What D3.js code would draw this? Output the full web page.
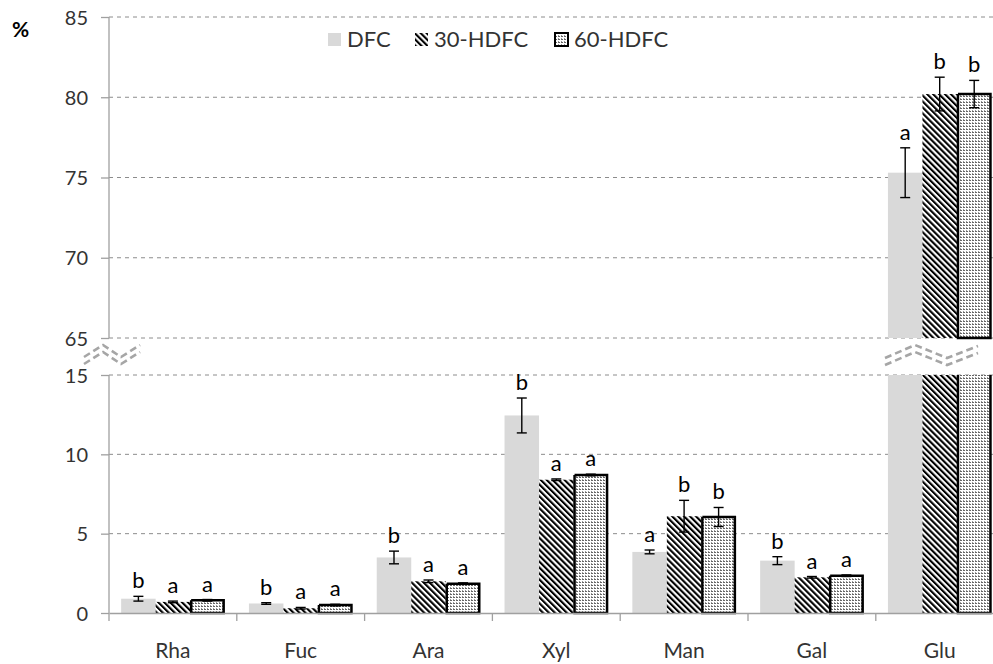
<!DOCTYPE html>
<html>
<head>
<meta charset="utf-8">
<script src="https://cdn.jsdelivr.net/npm/d3@7"></script>
<style>
  html, body { margin: 0; padding: 0; background: #fff; }
  svg { display: block; font-family: Lato, "Open Sans", sans-serif; }
</style>
</head>
<body>
<svg id="chart" width="993" height="664"></svg>
<script>
// Monosaccharide composition (%) of the three fibre samples
const categories = ["Rha", "Fuc", "Ara", "Xyl", "Man", "Gal", "Glu"];
const seriesNames = ["DFC", "30-HDFC", "60-HDFC"];
const dfc      = [0.9, 0.6, 3.5, 12.45, 3.85, 3.3, 75.3];
const hdfc30   = [0.7, 0.3, 2.0, 8.4, 6.1, 2.25, 80.2];
const hdfc60   = [0.8, 0.5, 1.85, 8.7, 6.05, 2.35, 80.2];
const errDfc   = [0.15, 0.05, 0.4, 1.1, 0.12, 0.25, 1.55];
const err30    = [0.05, 0.05, 0.08, 0.05, 1.0, 0.05, 1.05];
const err60    = [0.05, 0.05, 0.05, 0.05, 0.6, 0.05, 0.85];
const lettersDfc = ["b", "b", "b", "b", "a", "b", "a"];
const letters30  = ["a", "a", "a", "a", "b", "a", "b"];
const letters60  = ["a", "a", "a", "a", "b", "a", "b"];
const lowTicks  = [0, 5, 10, 15];
const highTicks = [65, 70, 75, 80, 85];

const values  = [dfc, hdfc30, hdfc60];
const errors  = [errDfc, err30, err60];
const letters = [lettersDfc, letters30, letters60];

const rows = [];
categories.forEach((c, i) => {
  seriesNames.forEach((s, j) => {
    rows.push({ cat: c, series: s, value: values[j][i], err: errors[j][i], letter: letters[j][i] });
  });
});

const svg = d3.select("#chart");
const axisColor = "#a0a0a0";
const textColor = "#333";

// Patterns for the two heat-treated samples
const defs = svg.append("defs");
const hatch = defs.append("pattern")
  .attr("id", "hatch").attr("patternUnits", "userSpaceOnUse")
  .attr("width", 4.2).attr("height", 4.2)
  .attr("patternTransform", "rotate(-45)");
hatch.append("rect").attr("width", 4.2).attr("height", 4.2).attr("fill", "#fff");
hatch.append("rect").attr("x", 0).attr("width", 2.1).attr("height", 4.2).attr("fill", "#000");

const dots = defs.append("pattern")
  .attr("id", "dots").attr("patternUnits", "userSpaceOnUse")
  .attr("width", 3).attr("height", 3);
dots.append("rect").attr("width", 3).attr("height", 3).attr("fill", "#fff");
dots.append("rect").attr("x", 0).attr("y", 0).attr("width", 2).attr("height", 1).attr("fill", "#666");
dots.append("rect").attr("x", 0).attr("y", 2).attr("width", 1).attr("height", 1).attr("fill", "#999");

const fills = { "DFC": "#d9d9d9", "30-HDFC": "url(#hatch)", "60-HDFC": "url(#dots)" };

// Scales: two vertical segments sharing one category axis
const left = 109;
const x = d3.scaleBand().domain(categories).range([left, left + 7 * 127.8]).padding(0);
const xs = d3.scaleBand().domain(seriesNames)
  .range([x.bandwidth() * 0.095, x.bandwidth() * 0.905]).padding(0);
const yLow  = d3.scaleLinear().domain([0, 15]).range([613, 375]);
const yHigh = d3.scaleLinear().domain([65, 85]).range([338, 17]);

// Dashed gridlines
const grid = svg.append("g");
grid.selectAll("line.gh").data(highTicks).join("line")
  .attr("x1", left).attr("x2", 993)
  .attr("y1", d => yHigh(d)).attr("y2", d => yHigh(d))
  .attr("stroke", "#8c8c8c").attr("stroke-width", 1).attr("stroke-dasharray", "4,4");
grid.selectAll("line.gl").data(lowTicks.filter(d => d > 0)).join("line")
  .attr("x1", left).attr("x2", 993)
  .attr("y1", d => yLow(d)).attr("y2", d => yLow(d))
  .attr("stroke", "#8c8c8c").attr("stroke-width", 1).attr("stroke-dasharray", "4,4");

// Bars (values above 15 are drawn in both segments)
const bars = svg.append("g");
rows.forEach(r => {
  const bx = x(r.cat) + xs(r.series);
  const bw = xs.bandwidth();
  const isBoxed = r.series === "60-HDFC";
  const segs = [];
  if (r.value <= 15) {
    segs.push([yLow(r.value), yLow(0), false]);
  } else {
    segs.push([yLow(15), yLow(0), true]);
    segs.push([yHigh(r.value), yHigh(65), false]);
  }
  segs.forEach(([y0, y1, cut]) => {
    bars.append("rect")
      .attr("x", isBoxed ? bx + 1 : bx).attr("y", y0)
      .attr("width", isBoxed ? bw - 2 : bw).attr("height", y1 - y0)
      .attr("fill", fills[r.series]);
    if (isBoxed) {
      const xa = bx + 1, xb = bx + bw - 1;
      const outline = cut
        ? [[xa, y0], [xa, y1], [xb, y1], [xb, y0]]
        : [[xa, y0], [xa, y1], [xb, y1], [xb, y0], [xa, y0]];
      bars.append("path")
        .attr("d", d3.line()(outline))
        .attr("fill", "none").attr("stroke", "#000").attr("stroke-width", 2.5);
    }
  });
});

// Error bars and significance letters
const yOf = v => (v <= 15 ? yLow(v) : yHigh(v));
const eb = svg.append("g").attr("stroke", "#000").attr("stroke-width", 1.4);
rows.forEach(r => {
  const cx = x(r.cat) + xs(r.series) + xs.bandwidth() / 2;
  const yt = yOf(r.value + r.err), yb = yOf(r.value - r.err);
  eb.append("line").attr("x1", cx).attr("x2", cx).attr("y1", yt).attr("y2", yb);
  eb.append("line").attr("x1", cx - 5).attr("x2", cx + 5).attr("y1", yt).attr("y2", yt);
  eb.append("line").attr("x1", cx - 5).attr("x2", cx + 5).attr("y1", yb).attr("y2", yb);
  svg.append("text")
    .attr("x", cx).attr("y", yt - 8)
    .attr("text-anchor", "middle")
    .attr("font-size", 22).attr("fill", "#000")
    .text(r.letter);
});

// Y axes (upper and lower segments)
const yAxisHigh = svg.append("g").attr("transform", `translate(${left},0)`)
  .call(d3.axisLeft(yHigh).tickValues(highTicks).tickSize(8).tickPadding(13));
const yAxisLow = svg.append("g").attr("transform", `translate(${left},0)`)
  .call(d3.axisLeft(yLow).tickValues(lowTicks).tickSize(8).tickPadding(13));
[yAxisHigh, yAxisLow].forEach(g => {
  g.select(".domain").remove();
  g.selectAll(".tick line").attr("stroke", axisColor).attr("stroke-width", 1.3);
  g.selectAll(".tick text").attr("font-size", 20).attr("fill", textColor)
    .attr("font-family", "Lato, sans-serif").attr("dy", "0.35em");
});
const axisLines = svg.append("g").attr("stroke", axisColor).attr("stroke-width", 1.3);
axisLines.append("line").attr("x1", left).attr("x2", left).attr("y1", yHigh(85)).attr("y2", yHigh(65));
axisLines.append("line").attr("x1", left).attr("x2", left).attr("y1", yLow(15)).attr("y2", yLow(0) + 8);

// X axis
const xAxis = svg.append("g").attr("transform", `translate(0,${yLow(0)})`)
  .call(d3.axisBottom(x).tickSize(0).tickPadding(30));
xAxis.select(".domain").attr("stroke", axisColor).attr("stroke-width", 1.3);
xAxis.selectAll(".tick text").attr("font-size", 21).attr("fill", textColor)
  .attr("font-family", "Lato, sans-serif");
axisLines.selectAll("line.xt").data(categories.slice(1)).join("line")
  .attr("x1", d => x(d)).attr("x2", d => x(d))
  .attr("y1", yLow(0)).attr("y2", yLow(0) + 8);

// Axis break marks
const breakMark = (pts) => {
  [0, 7].forEach(off => {
    svg.append("path")
      .attr("d", d3.line()(pts.map(p => [p[0], p[1] + off])))
      .attr("fill", "none").attr("stroke", "#a6a6a6")
      .attr("stroke-width", 2.6).attr("stroke-dasharray", "7,4");
  });
};
breakMark([[84, 357], [103, 345], [121, 357], [140, 345]]);
breakMark([[885, 358], [915, 345], [947, 358], [978, 346]]);

// Unit label
svg.append("text").attr("x", 12).attr("y", 37)
  .attr("font-size", 21).attr("font-weight", "bold").attr("fill", "#000")
  .text("%");

// Legend
const legend = svg.append("g");
const legendX = [328, 415, 555];
seriesNames.forEach((s, i) => {
  legend.append("rect")
    .attr("x", legendX[i]).attr("y", 33).attr("width", 13).attr("height", 13)
    .attr("fill", fills[s])
    .attr("stroke", s === "60-HDFC" ? "#000" : "none").attr("stroke-width", 2);
  legend.append("text")
    .attr("x", legendX[i] + 19).attr("y", 47)
    .attr("font-size", 22).attr("fill", textColor)
    .text(s);
});
</script>
</body>
</html>
